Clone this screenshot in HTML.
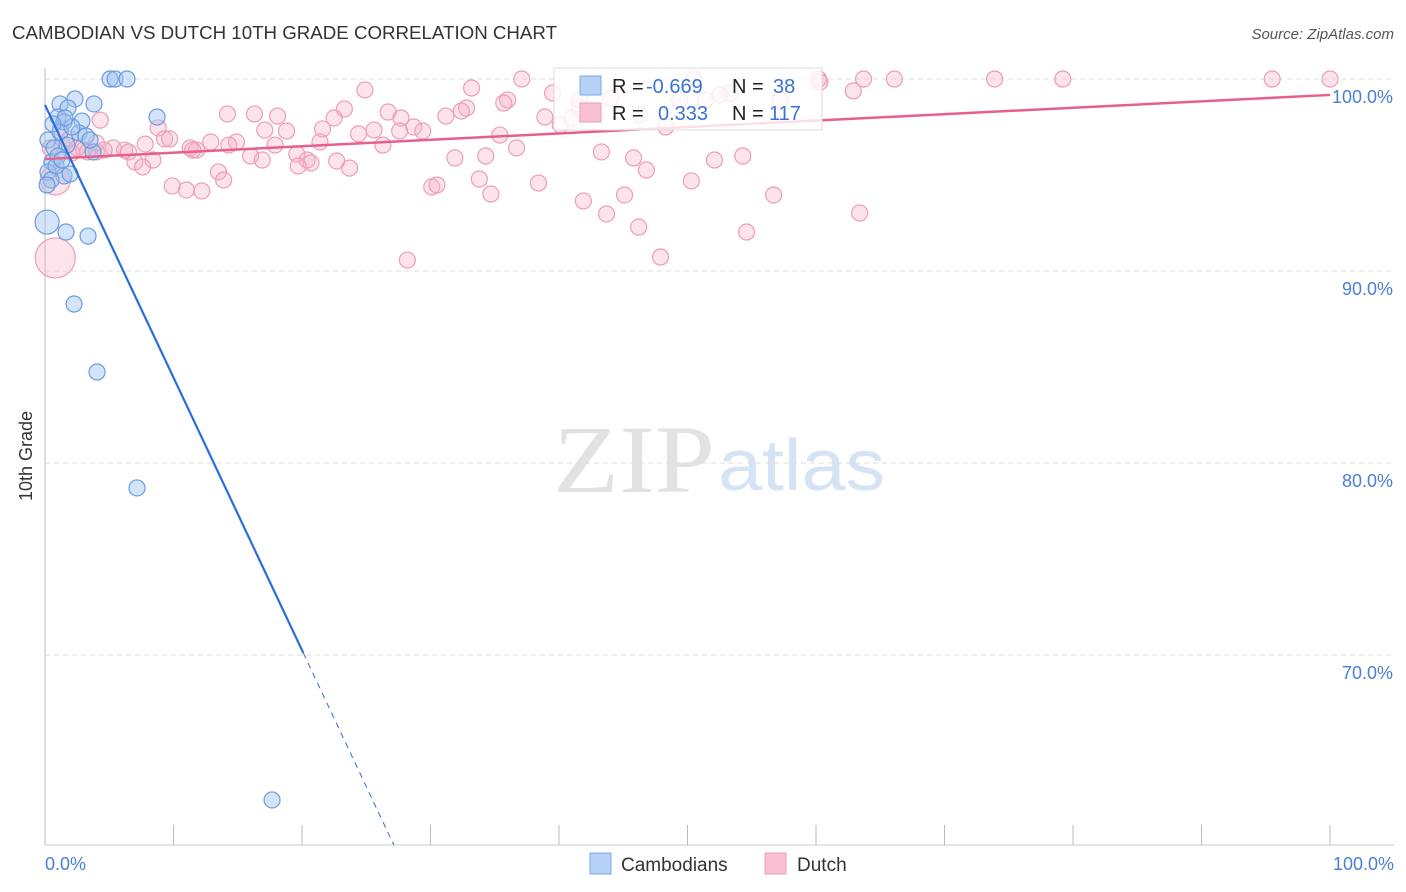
<!DOCTYPE html>
<html><head><meta charset="utf-8">
<style>
body{margin:0;background:#fff;font-family:"Liberation Sans",sans-serif;}
#wrap{position:relative;width:1406px;height:892px;overflow:hidden;}
</style></head>
<body>
<div id="wrap">
<svg id="chart" width="1406" height="892" xmlns="http://www.w3.org/2000/svg">
  <text x="12" y="39" font-size="18" fill="#333" textLength="545" lengthAdjust="spacingAndGlyphs">CAMBODIAN VS DUTCH 10TH GRADE CORRELATION CHART</text>
  <text x="1394" y="39" font-size="15" fill="#555" font-style="italic" text-anchor="end">Source: ZipAtlas.com</text>
  <text x="32" y="456" font-size="18" fill="#333" transform="rotate(-90 32 456)" text-anchor="middle">10th Grade</text>
  <g>
    <text x="553" y="492" font-size="96" font-family="Liberation Serif,serif" fill="#e2e2e2" textLength="162" lengthAdjust="spacingAndGlyphs">ZIP</text>
    <text x="718" y="490" font-size="72" fill="#d6e3f5" textLength="167" lengthAdjust="spacingAndGlyphs">atlas</text>
  </g>
  <g id="grid"></g>
  <g id="axes"></g>
  <g id="pinkPts"></g>
  <g id="bluePts"></g>
  <g id="lines"></g>
  <g>
    <rect x="554" y="68" width="268" height="62" fill="#fff" fill-opacity="0.8" stroke="#ddd"/>
    <rect x="580" y="76" width="21" height="19" fill="#b5d1f5" stroke="#7fa9e6"/>
    <rect x="580" y="103" width="21" height="19" fill="#f8c0d2" stroke="#ec9db8"/>
    <text x="612" y="93" font-size="20" fill="#222">R = </text>
    <text x="646" y="93" font-size="20" fill="#3b73d3">-0.669</text>
    <text x="732" y="93" font-size="20" fill="#222">N = </text>
    <text x="773" y="93" font-size="20" fill="#3b73d3">38</text>
    <text x="612" y="120" font-size="20" fill="#222">R = </text>
    <text x="658" y="120" font-size="20" fill="#3b73d3">0.333</text>
    <text x="732" y="120" font-size="20" fill="#222">N = </text>
    <text x="769" y="120" font-size="20" fill="#3b73d3">117</text>
  </g>
  <g>
    <rect x="590" y="853" width="21" height="21" fill="#b5d1f5" stroke="#7fa9e6"/>
    <text x="621" y="871" font-size="19" fill="#333">Cambodians</text>
    <rect x="765" y="853" width="21" height="21" fill="#f8c0d2" stroke="#ec9db8"/>
    <text x="797" y="871" font-size="19" fill="#333">Dutch</text>
  </g>
</svg>
</div>
<script>
const xTicks=[0,10,20,30,40,50,60,70,80,90,100];
const yTicks=[100,90,80,70];
const yTickLabels=["100.0%","90.0%","80.0%","70.0%"];
const blueX=[5.06,5.45,6.38,0.16,1.63,3.35,2.26,4.05,7.16,17.67,8.72,2.33,3.81,1.17,1.79,1.01,2.88,1.48,0.23,1.17,2.65,3.19,0.70,1.71,0.54,1.01,3.74,0.23,1.48,0.47,1.95,0.16,0.86,2.10,1.56,0.62,3.50,1.32];
const blueY=[100,100,100,92.55,92.03,91.82,88.28,84.74,78.70,62.45,98.02,98.96,98.70,98.70,98.49,98.02,97.81,97.76,96.82,97.24,97.19,97.03,96.41,96.56,95.68,95.99,96.20,95.16,94.95,94.74,95.05,94.48,95.47,97.50,97.97,97.66,96.82,95.78];
const blueR=[8,8,8,12,8,8,8,8,8,8,8,8,8,8,8,8,8,8,8,8,8,8,8,8,8,8,8,8,8,8,8,8,8,8,8,8,8,8];
const pinkX=[37.1,50.5,60.2,63.7,66.1,73.9,79.2,95.5,100,33.2,24.9,39.5,62.9,53.3,51.4,36.0,35.7,32.8,23.3,32.4,26.7,31.2,27.7,18.1,14.2,16.3,22.5,38.9,41.0,8.8,17.1,18.8,21.6,25.6,28.7,29.4,24.4,27.6,35.4,36.7,26.3,14.9,12.9,9.3,7.8,11.3,5.3,6.2,4.0,4.6,2.5,3.0,1.3,3.3,2.1,6.5,8.4,7.0,16.0,16.9,19.6,20.4,20.7,22.7,23.7,19.7,11.8,31.9,34.3,43.3,45.8,46.8,52.1,54.3,9.9,11.0,12.2,13.5,13.9,30.1,30.5,33.8,34.7,38.4,41.9,43.7,45.1,46.2,47.9,50.3,54.6,56.7,63.4,28.2,0.8,0.8,0.4,1.2,1.9,4.3,4.0,21.4,17.9,14.3,11.5,9.7,7.6,41.6,40.1,48.3,49.4,52.5,57.2,60.3,41.6,46.3,44.0];
const pinkY=[100,100,100,100,100,100,100,100,100,99.53,99.43,99.27,99.38,99.27,98.91,98.91,98.75,98.49,98.44,98.33,98.28,98.07,97.97,98.07,98.18,98.18,97.97,98.02,97.97,97.45,97.34,97.29,97.40,97.34,97.50,97.29,97.14,97.29,97.08,96.41,96.56,96.72,96.72,96.88,96.61,96.41,96.41,96.30,96.20,96.30,96.41,96.30,96.61,96.20,96.15,96.20,95.78,95.68,95.99,95.78,96.09,95.78,95.63,95.73,95.36,95.47,96.30,95.89,95.99,96.20,95.89,95.26,95.78,95.99,94.43,94.22,94.17,95.16,94.74,94.38,94.48,94.79,94.01,94.58,93.65,92.97,93.96,92.29,90.73,94.69,92.03,93.96,93.02,90.57,90.68,94.74,96.41,97.45,96.88,97.86,96.67,96.72,96.56,96.56,96.30,96.88,95.42,98.49,97.60,97.50,98.91,99.17,98.91,99.84,98.91,98.13,99.0];
const pinkR=[8,8,8,8,8,8,8,8,8,8,8,8,8,8,8,8,8,8,8,8,8,8,8,8,8,8,8,8,8,8,8,8,8,8,8,8,8,8,8,8,8,8,8,8,8,8,8,8,8,8,8,8,8,8,8,8,8,8,8,8,8,8,8,8,8,8,8,8,8,8,8,8,8,8,8,8,8,8,8,8,8,8,8,8,8,8,8,8,8,8,8,8,8,8,20,15,8,8,8,8,8,8,8,8,8,8,8,8,8,8,8,8,8,8,8,8,8];
const blueTrend=[98.65,-1.42];   // intercept, slope
const pinkTrend=[95.83,0.0334];
const X0=45,X1=1330,Y100=79,PXPER=19.2;
function sx(v){return X0+(X1-X0)*v/100;}
function sy(v){return Y100+(100-v)*PXPER;}
const NS="http://www.w3.org/2000/svg";
function mk(tag,attrs,parent){const e=document.createElementNS(NS,tag);for(const k in attrs)e.setAttribute(k,attrs[k]);parent.appendChild(e);return e;}
const grid=document.getElementById('grid'),axes=document.getElementById('axes');
yTicks.forEach((t,i)=>{
  const g=mk('line',{x1:45,x2:1394,y1:sy(t),y2:sy(t),stroke:'#ddd','stroke-dasharray':'5,4'},grid);
  
  
  const l=mk('text',{x:1393,y:sy(t)+24,'font-size':18,fill:'#4a7fd6','text-anchor':'end'},axes);
  l.textContent=yTickLabels[i];
  
  
});
const ax=mk('line',{x1:45,x2:45,y1:68,y2:845,stroke:'#bbb'},axes);


const bx=mk('line',{x1:45,x2:1394,y1:845,y2:845,stroke:'#ccc'},axes);


xTicks.forEach(t=>{
  const tk=mk('line',{x1:sx(t),x2:sx(t),y1:825,y2:845,stroke:'#bbb'},axes);
  
  
});
const xl0=mk('text',{x:45,y:870,'font-size':18,fill:'#4a7fd6'},axes);xl0.textContent='0.0%';


const xl1=mk('text',{x:1394,y:870,'font-size':18,fill:'#4a7fd6','text-anchor':'end'},axes);xl1.textContent='100.0%';


const pg=document.getElementById('pinkPts');
pinkX.forEach((v,i)=>{
  const c=mk('circle',{cx:sx(v),cy:sy(pinkY[i]),r:pinkR[i],fill:'rgba(246,175,200,0.35)',stroke:'#ec9db8','stroke-width':1.2},pg);
  
  
});
const bg=document.getElementById('bluePts');
blueX.forEach((v,i)=>{
  const c=mk('circle',{cx:sx(v),cy:sy(blueY[i]),r:blueR[i],fill:'rgba(160,196,240,0.45)',stroke:'#6a9be0','stroke-width':1.2},bg);
  
  
});
const lg=document.getElementById('lines');
const pl=mk('line',{x1:sx(0),y1:sy(pinkTrend[0]),x2:sx(100),y2:sy(pinkTrend[0]+100*pinkTrend[1]),stroke:'#e8608a','stroke-width':2.5},lg);


const xSolid=20.1, yMin=60.1, xEnd=(yMin-blueTrend[0])/blueTrend[1];
const bl=mk('line',{x1:sx(0),y1:sy(blueTrend[0]),x2:sx(xSolid),y2:sy(blueTrend[0]+xSolid*blueTrend[1]),stroke:'#2a6fd6','stroke-width':2.2},lg);


const bd=mk('line',{x1:sx(xSolid),y1:sy(blueTrend[0]+xSolid*blueTrend[1]),x2:sx(xEnd),y2:sy(yMin),stroke:'#2a6fd6','stroke-width':1,'stroke-dasharray':'6,5'},lg);


</script>
</body></html>
